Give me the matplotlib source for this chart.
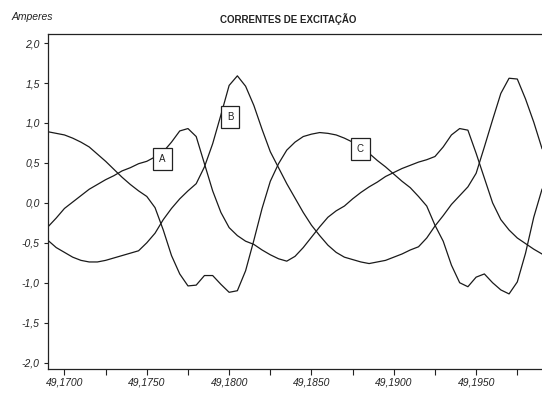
import numpy as np
import matplotlib
matplotlib.use('Agg')
import matplotlib.pyplot as plt
from matplotlib.ticker import FuncFormatter, MultipleLocator

plt.rcParams['font.family'] = ['Liberation Sans', 'DejaVu Sans']

# tempo (s), amostras a cada 0,5 ms
t0 = 49.1690
passo = 0.0005
n = 61

# correntes de excitação (A)
fase_a = [-0.30, -0.19, -0.07, 0.01, 0.09, 0.17, 0.23, 0.29, 0.34, 0.40,
          0.44, 0.49, 0.52, 0.575, 0.64, 0.76, 0.90, 0.93, 0.83, 0.49,
          0.15, -0.12, -0.31, -0.41, -0.48, -0.52, -0.59, -0.65, -0.70, -0.73,
          -0.67, -0.56, -0.43, -0.30, -0.18, -0.10, -0.04, 0.05, 0.13, 0.20,
          0.26, 0.33, 0.38, 0.43, 0.47, 0.51, 0.54, 0.58, 0.70, 0.85,
          0.93, 0.91, 0.62, 0.31, 0.00, -0.21, -0.34, -0.44, -0.51, -0.58,
          -0.64]
fase_b = [-0.47, -0.56, -0.62, -0.68, -0.72, -0.74, -0.74, -0.72, -0.69, -0.66,
          -0.63, -0.60, -0.50, -0.38, -0.21, -0.07, 0.05, 0.15, 0.24, 0.45,
          0.74, 1.10, 1.47, 1.59, 1.46, 1.22, 0.92, 0.64, 0.44, 0.24,
          0.06, -0.12, -0.28, -0.41, -0.53, -0.62, -0.68, -0.71, -0.74, -0.76,
          -0.74, -0.72, -0.68, -0.64, -0.59, -0.55, -0.44, -0.29, -0.16, -0.02,
          0.09, 0.20, 0.37, 0.70, 1.04, 1.37, 1.56, 1.55, 1.30, 1.01,
          0.68]
fase_c = [0.89, 0.87, 0.85, 0.81, 0.76, 0.70, 0.61, 0.52, 0.42, 0.32,
          0.23, 0.15, 0.08, -0.06, -0.34, -0.66, -0.89, -1.04, -1.03, -0.91,
          -0.91, -1.02, -1.12, -1.10, -0.85, -0.47, -0.07, 0.27, 0.49, 0.66,
          0.76, 0.83, 0.86, 0.88, 0.87, 0.85, 0.81, 0.76, 0.69, 0.62,
          0.53, 0.45, 0.36, 0.27, 0.19, 0.08, -0.04, -0.28, -0.48, -0.78,
          -1.00, -1.05, -0.93, -0.89, -1.00, -1.09, -1.14, -0.99, -0.63, -0.18,
          0.17]

# identificação das fases
rotulos = ['A', 'B', 'C']
pos_rotulos = [(49.17596, 0.553), (49.18005, 1.074), (49.18797, 0.676)]

t = t0 + passo * np.arange(n)

fig = plt.figure(figsize=(5.42, 3.96), dpi=100)
ax = fig.add_axes([48 / 542, 27 / 396, 494 / 542, 335.5 / 396])

for serie in (fase_a, fase_b, fase_c):
    ax.plot(t, serie, color='#1a1a1a', lw=0.9)

for txt, (x, y) in zip(rotulos, pos_rotulos):
    ax.text(x, y, txt, ha='center', va='center', fontsize=7, color='#222222',
            bbox=dict(boxstyle='square,pad=0.62', fc='white', ec='#222222', lw=0.9))

ax.set_xlim(t0, t0 + passo * (n - 1))
ax.set_ylim(-2.08, 2.12)

ax.xaxis.set_major_locator(MultipleLocator(0.005))
ax.xaxis.set_minor_locator(MultipleLocator(0.0025))
ax.yaxis.set_major_locator(MultipleLocator(0.5))
ax.xaxis.set_major_formatter(FuncFormatter(lambda v, p: f'{v:.4f}'.replace('.', ',')))
ax.yaxis.set_major_formatter(FuncFormatter(lambda v, p: f'{v:.1f}'.replace('.', ',').replace('-0,0', '0,0')))

ax.tick_params(axis='both', which='both', direction='out', width=0.8, color='#222222',
               labelsize=7.5, labelcolor='#222222')
ax.tick_params(axis='x', which='both', length=4, pad=2)
ax.tick_params(axis='y', length=3, pad=3)
for lab in ax.get_xticklabels() + ax.get_yticklabels():
    lab.set_fontstyle('italic')

ax.spines['right'].set_visible(False)
for s in ('left', 'top', 'bottom'):
    ax.spines[s].set_linewidth(0.9)
    ax.spines[s].set_color('#222222')

fig.text(288 / 542, 1 - 19 / 396, 'CORRENTES DE EXCITAÇÃO', ha='center', va='center',
         fontsize=7, fontweight='bold', color='#222222')
fig.text(12 / 542, 1 - 17 / 396, 'Amperes', ha='left', va='center',
         fontsize=7.5, fontstyle='italic', color='#222222')

fig.savefig('out.png', dpi=100)
